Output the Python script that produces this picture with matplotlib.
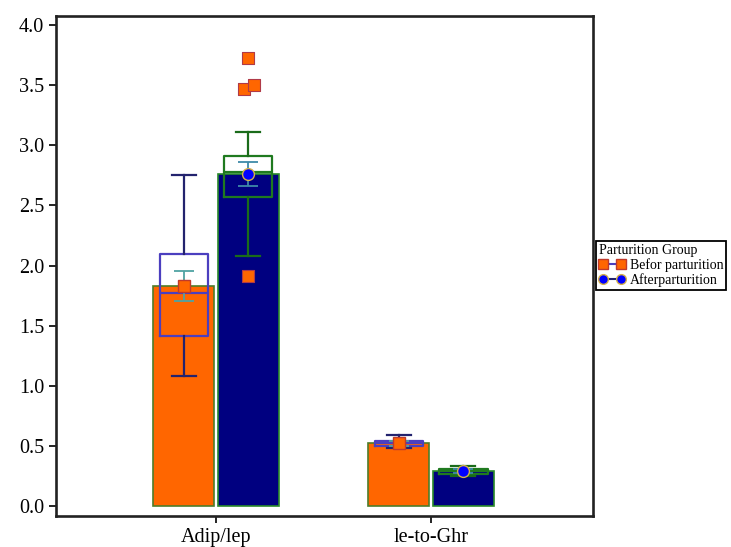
import matplotlib
matplotlib.use("Agg")
import matplotlib.pyplot as plt
from matplotlib.lines import Line2D
import numpy as np

plt.rcParams["font.family"] = ["Liberation Serif", "DejaVu Serif"]

# ---- data ----
categories = ["Adip/lep", "le-to-Ghr"]
groups = ["Befor parturition", "Afterparturition"]

bar_before = [1.83, 0.52]
bar_after = [2.76, 0.29]

mean_before = [1.83, 0.52]
sem_before = [0.128, 0.02]
mean_after = [2.76, 0.29]
sem_after = [0.098, 0.015]

# box statistics: lower whisker, Q1, median, Q3, upper whisker
box_before_whislo = [1.08, 0.48]
box_before_q1 = [1.41, 0.50]
box_before_med = [1.77, 0.52]
box_before_q3 = [2.10, 0.54]
box_before_whishi = [2.75, 0.59]

box_after_whislo = [2.08, 0.25]
box_after_q1 = [2.57, 0.27]
box_after_med = [2.78, 0.29]
box_after_q3 = [2.91, 0.31]
box_after_whishi = [3.11, 0.33]

# outlying observations (Adip/lep, after parturition)
outlier_values = [3.73, 3.47, 3.50, 1.91]
outlier_jitter = [0.0, -0.021, 0.027, 0.0]

# ---- styling ----
c_orange = "#ff6600"
c_navy = "#000080"
bar_w = 0.285
offset = 0.15
box_w = 0.225

fig = plt.figure(figsize=(7.31, 5.47), dpi=100)
ax = fig.add_axes([0.0766, 0.0567, 0.7346, 0.914])

x = np.arange(len(categories))
xb = x - offset
xa = x + offset

ax.bar(xb, bar_before, width=bar_w, color=c_orange, edgecolor="#4e7d2a",
       linewidth=1.2, zorder=1)
ax.bar(xa, bar_after, width=bar_w, color=c_navy, edgecolor="#2a8a2a",
       linewidth=1.2, zorder=1)


def make_stats(lo, q1, med, q3, hi):
    return [dict(whislo=a, q1=b, med=c, q3=d, whishi=e, fliers=[])
            for a, b, c, d, e in zip(lo, q1, med, q3, hi)]


stats_b = make_stats(box_before_whislo, box_before_q1, box_before_med,
                     box_before_q3, box_before_whishi)
stats_a = make_stats(box_after_whislo, box_after_q1, box_after_med,
                     box_after_q3, box_after_whishi)

def draw_boxes(stats, pos, edge, whisk):
    ax.bxp(stats, positions=pos, widths=box_w, showfliers=False,
           capwidths=0.11, manage_ticks=False,
           boxprops=dict(color=edge, linewidth=1.6),
           medianprops=dict(color=edge, linewidth=1.6),
           whiskerprops=dict(color=whisk, linewidth=1.6),
           capprops=dict(color=whisk, linewidth=1.6))

draw_boxes(stats_b, xb, "#4b3fbf", "#23236e")
draw_boxes(stats_a, xa, "#1f7a1f", "#1a6b1a")

# means with standard error
ax.errorbar(xb, mean_before, yerr=sem_before, fmt="s", color="#4fa3a3",
            ecolor="#4fa3a3", elinewidth=1.3, capsize=7, capthick=1.3,
            markerfacecolor=c_orange, markeredgecolor="#c0392b",
            markersize=8, zorder=5)
ax.errorbar(xa, mean_after, yerr=sem_after, fmt="o", color="#3f8aa8",
            ecolor="#3f8aa8", elinewidth=1.3, capsize=7, capthick=1.3,
            markerfacecolor="#0000ff", markeredgecolor="#d4b04a",
            markersize=8.5, zorder=5)

# outliers
ax.scatter(xa[0] + np.array(outlier_jitter), outlier_values, marker="s",
           s=70, color=c_orange, edgecolor="#b03a48", linewidth=0.8, zorder=5)

ax.set_xlim(-0.744, 1.753)
ax.set_ylim(-0.083, 4.075)
ax.set_xticks(x)
ax.set_xticklabels(categories)
ax.set_yticks(np.arange(0, 4.01, 0.5))
ax.set_yticklabels([f"{v:.1f}" for v in np.arange(0, 4.01, 0.5)])
ax.tick_params(axis="both", labelsize=14.5, length=5, width=1.2,
               direction="out", top=False, right=False, colors="black")
ax.tick_params(axis="x", pad=4)
for s in ax.spines.values():
    s.set_linewidth(1.9)
    s.set_color("#222222")

handles = [
    Line2D([0], [0], color="#4b3fbf", marker="s", markersize=7,
           markerfacecolor=c_orange, markeredgecolor="#c0392b", linewidth=1.5),
    Line2D([0], [0], color="#23236e", marker="o", markersize=7,
           markerfacecolor="#0000ff", markeredgecolor="#d4b04a", linewidth=1.5),
]
leg = fig.legend(handles, groups, title="Parturition Group",
                 loc="upper left", bbox_to_anchor=(0.815, 0.559),
                 borderaxespad=0, fontsize=10, title_fontsize=10,
                 numpoints=2, handlelength=1.9, handletextpad=0.35,
                 labelspacing=0.1, borderpad=0.2, fancybox=False,
                 framealpha=1, edgecolor="black")
leg.get_frame().set_linewidth(1.3)
leg._legend_box.align = "left"

fig.savefig("out.png", dpi=100)
